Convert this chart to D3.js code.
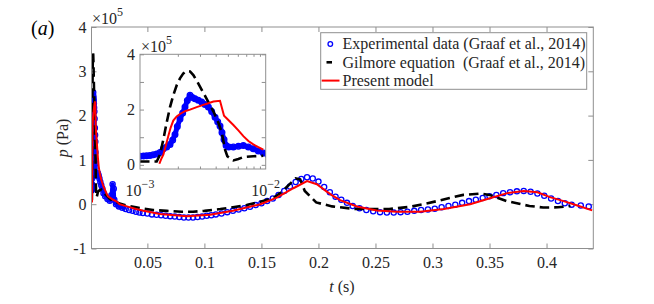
<!DOCTYPE html>
<html><head><meta charset="utf-8">
<script src="https://cdn.jsdelivr.net/npm/d3@7"></script>
<style>
body{margin:0;background:#fff;}
svg text{font-family:"Liberation Serif","Times New Roman","Tinos","DejaVu Serif",serif !important;}
</style></head>
<body>
<svg id="chart" width="654" height="304"></svg>
<script>
// ---------- data (p in units of 1e5 Pa, t in s) ----------
const expT = [0.001,0.001063,0.00113,0.001201,0.001276,0.001358,0.001443,0.001534,0.00163,0.001733,0.00182,0.001899,0.001982,0.002081,0.002185,0.00228,0.00238,0.0025,0.002609,0.00274,0.002912,0.003096,0.003291,0.0035,0.003718,0.003955,0.00415,0.00433,0.00449,0.00466,0.00484,0.00508,0.00553,0.00606,0.00664,0.00728,0.00797,0.00874,0.00957,
  0.0105,0.0115,0.013,0.015,0.017,0.0185,0.0195,0.0205,0.021,0.0225,0.025,0.028,0.031,0.034,0.037,0.040,0.043,0.046,0.050,0.054,0.058,0.062,0.066,0.070,0.074,0.078,0.082,0.086,0.090,0.094,0.098,0.102,0.106,0.110,0.115,0.120,0.125,0.130,0.135,0.140,0.145,0.150,0.155,0.160,0.165,0.170,0.175,0.180,0.185,0.190,0.195,0.200,0.205,0.210,0.215,0.220,0.225,0.230,0.236,0.242,0.248,0.254,0.260,0.266,0.272,0.278,0.284,0.290,0.296,0.302,0.308,0.314,0.320,0.326,0.332,0.338,0.344,0.350,0.356,0.362,0.368,0.374,0.380,0.386,0.392,0.398,0.404,0.410,0.416,0.422,0.430,0.437];
const expP = [0.31,0.32,0.33,0.34,0.37,0.39,0.45,0.58,0.65,0.74,0.90,1.10,1.39,1.66,1.88,2.09,2.33,2.52,2.44,2.39,2.34,2.27,2.18,2.09,1.93,1.72,1.56,1.41,1.17,0.92,0.70,0.65,0.65,0.67,0.70,0.65,0.58,0.50,0.43,
  0.35,0.25,0.18,0.12,0.08,0.20,0.45,0.35,0.10,0.0,-0.05,-0.08,-0.11,-0.13,-0.15,-0.17,-0.19,-0.20,-0.21,-0.23,-0.24,-0.25,-0.26,-0.27,-0.28,-0.29,-0.30,-0.30,-0.30,-0.29,-0.28,-0.26,-0.25,-0.23,-0.21,-0.18,-0.15,-0.12,-0.09,-0.06,-0.02,0.02,0.07,0.13,0.21,0.30,0.40,0.50,0.57,0.61,0.58,0.51,0.39,0.27,0.17,0.10,0.03,-0.04,-0.09,-0.13,-0.16,-0.18,-0.19,-0.19,-0.18,-0.17,-0.15,-0.13,-0.12,-0.10,-0.07,-0.04,-0.01,0.03,0.07,0.10,0.14,0.18,0.21,0.25,0.27,0.29,0.30,0.28,0.24,0.19,0.13,0.07,0.02,-0.01,-0.03,-0.05];

const gilT = [0.001,0.001358,0.001443,0.001534,0.00163,0.001733,0.00184,0.001959,0.002081,0.002212,0.00235,0.0025,0.002657,0.002912,0.00319,0.0035,0.00384,0.0042,0.00447,0.00475,0.00495,0.00553,0.00606,0.00664,0.00797,0.00957,
  0.012,0.017,0.025,0.032,0.040,0.0465,0.055,0.067,0.080,0.090,0.100,0.114,0.125,0.137,0.150,0.161,0.168,0.175,0.180,0.184,0.188,0.198,0.212,0.233,0.262,0.280,0.292,0.304,0.315,0.327,0.342,0.350,0.3565,0.365,0.374,0.385,0.397,0.410,0.421];
const gilP = [0.12,0.12,0.37,0.92,1.53,2.09,2.52,2.88,3.13,3.31,3.40,3.38,3.25,2.94,2.61,2.27,1.93,1.53,1.17,0.55,0.31,0.16,0.21,0.28,0.31,0.33,
  0.25,0.12,0.02,-0.03,-0.07,-0.10,-0.13,-0.15,-0.17,-0.17,-0.15,-0.11,-0.07,-0.02,0.06,0.15,0.28,0.46,0.58,0.56,0.30,0.04,-0.05,-0.11,-0.11,-0.06,0.0,0.07,0.14,0.21,0.24,0.21,0.15,0.07,0.02,-0.04,-0.075,-0.07,-0.04];

const modT = [0.001426,0.001488,0.001534,0.0016,0.00168,0.001754,0.00184,0.001959,0.002081,0.00228,0.0025,0.002825,0.00319,0.0035,0.00384,0.00433,0.00466,0.00495,0.00553,0.00606,0.00664,0.00728,0.00797,0.00874,0.00957,
  0.0115,0.0144,0.0155,0.020,0.0232,0.0255,0.032,0.040,0.0465,0.061,0.0846,0.105,0.125,0.149,0.1635,0.178,0.190,0.1986,0.207,0.212,0.219,0.2337,0.251,0.269,0.289,0.310,0.333,0.351,0.3655,0.380,0.392,0.403,0.415,0.427,0.440];
const modP = [0.04,0.25,0.37,0.67,1.04,1.35,1.60,1.75,1.84,1.94,2.00,2.09,2.17,2.23,2.29,2.32,1.78,1.66,1.44,1.25,1.04,0.86,0.74,0.64,0.55,
  0.40,0.23,0.18,0.10,0.06,0.0,-0.05,-0.11,-0.15,-0.22,-0.27,-0.24,-0.15,0.0,0.15,0.36,0.52,0.45,0.29,0.20,0.09,-0.05,-0.14,-0.17,-0.17,-0.11,0.0,0.14,0.25,0.30,0.27,0.16,0.07,-0.03,-0.14];

const xTicks = [0.05,0.1,0.15,0.2,0.25,0.3,0.35,0.4];
const yTicks = [-1,0,1,2,3,4];
const insetYTicks = [0,1,2,3,4];
const insetYLabels = ["0","","2","","4"];
const insetXMajor = [1e-3,1e-2];
const insetXMinor = [2e-3,3e-3,4e-3,5e-3,6e-3,7e-3,8e-3,9e-3];
const legendLabels = ["Experimental data (Graaf et al., 2014)","Gilmore equation  (Graaf et al., 2014)","Present model"];

// ---------- setup ----------
const svg = d3.select("#chart");
const AX = "#8f8f8f", TX = "#262626";
const BLUE = "#0000ff", RED = "#ff0000", BLACK = "#000000";
const zip = (T,P) => T.map((t,i)=>({t, p:P[i]}));
const exp = zip(expT,expP), gil = zip(gilT,gilP), mod = zip(modT,modP);

const M = {l:91.5, r:593.3, t:27, b:248.5};
const x = d3.scaleLinear().domain([0.001,0.441]).range([M.l,M.r]);
const y = d3.scaleLinear().domain([-1,4]).range([M.b,M.t]);

const defs = svg.append("defs");
defs.append("clipPath").attr("id","clipMain").append("rect")
  .attr("x",M.l).attr("y",M.t).attr("width",M.r-M.l).attr("height",M.b-M.t);

function styleAxis(g){
  g.attr("font-family",null);
  g.selectAll(".domain").remove();
  g.selectAll(".tick line").attr("stroke",AX);
  g.selectAll(".tick text").attr("fill",TX).attr("font-size",16);
}

svg.append("g").attr("transform",`translate(0,${M.b})`)
  .call(d3.axisBottom(x).tickValues(xTicks).tickSize(-5).tickPadding(8).tickFormat(d3.format("")))
  .call(styleAxis);
svg.append("g").attr("transform",`translate(0,${M.t})`)
  .call(d3.axisTop(x).tickValues(xTicks).tickSize(-5).tickFormat(""))
  .call(styleAxis);
svg.append("g").attr("transform",`translate(${M.l},0)`)
  .call(d3.axisLeft(y).tickValues(yTicks).tickSize(-5).tickPadding(5).tickFormat(d=>d<0?"-"+Math.abs(d):d))
  .call(styleAxis);
svg.append("g").attr("transform",`translate(${M.r},0)`)
  .call(d3.axisRight(y).tickValues(yTicks).tickSize(-5).tickFormat(""))
  .call(styleAxis);

const gm = svg.append("g").attr("clip-path","url(#clipMain)");
const lineM = d3.line().x(d=>x(d.t)).y(d=>y(d.p));
gm.append("path").datum(exp.filter(d=>d.t<=0.031)).attr("d",lineM)
  .attr("fill","none").attr("stroke",BLUE).attr("stroke-width",4).attr("stroke-linejoin","round");
gm.selectAll("circle.e").data(exp).join("circle").attr("class","e")
  .attr("cx",d=>x(d.t)).attr("cy",d=>y(d.p)).attr("r",2.6)
  .attr("fill","none").attr("stroke",BLUE).attr("stroke-width",1.3);
gm.append("path").datum(gil).attr("d",lineM)
  .attr("fill","none").attr("stroke",BLACK).attr("stroke-width",2.6).attr("stroke-dasharray","9.5,5");
gm.append("path").datum(mod).attr("d",lineM)
  .attr("fill","none").attr("stroke",RED).attr("stroke-width",2);

svg.append("rect").attr("x",M.l).attr("y",M.t).attr("width",M.r-M.l).attr("height",M.b-M.t)
  .attr("fill","none").attr("stroke",AX).attr("stroke-width",1);

const e1 = svg.append("text").attr("x",92).attr("y",24).attr("font-size",16).attr("fill",TX);
e1.append("tspan").text("×10");
e1.append("tspan").attr("font-size",12).attr("dy",-8).text("5");

const yl = svg.append("text").attr("transform","translate(68,138) rotate(-90)")
  .attr("text-anchor","middle").attr("font-size",16).attr("fill",TX);
yl.append("tspan").attr("font-style","italic").text("p");
yl.append("tspan").text(" (Pa)");
const xl = svg.append("text").attr("x",342).attr("y",292)
  .attr("text-anchor","middle").attr("font-size",16).attr("fill",TX);
xl.append("tspan").attr("font-style","italic").text("t");
xl.append("tspan").text(" (s)");

const pl = svg.append("text").attr("x",31).attr("y",35).attr("font-size",20).attr("fill","#000");
pl.append("tspan").text("(");
pl.append("tspan").attr("font-style","italic").text("a");
pl.append("tspan").text(")");

const L = {x:320.7, y:32.7, w:266, h:56.6};
svg.append("rect").attr("x",L.x).attr("y",L.y).attr("width",L.w).attr("height",L.h)
  .attr("fill","#fff").attr("stroke",AX).attr("stroke-width",1);
const lg = svg.append("g");
legendLabels.forEach((lab,i)=>{
  const cy = 44 + i*18.3;
  if(i===0){
    lg.append("circle").attr("cx",330.3).attr("cy",cy).attr("r",2.3)
      .attr("fill","none").attr("stroke",BLUE).attr("stroke-width",1.3);
  } else if(i===1){
    lg.append("line").attr("x1",326.5).attr("x2",332).attr("y1",cy).attr("y2",cy)
      .attr("stroke",BLACK).attr("stroke-width",2.6);
  } else {
    lg.append("line").attr("x1",321.7).attr("x2",339.5).attr("y1",cy).attr("y2",cy)
      .attr("stroke",RED).attr("stroke-width",2);
  }
  lg.append("text").attr("x",342.5).attr("y",cy+5.3).attr("font-size",16).attr("fill",TX)
    .style("white-space","pre").text(lab);
});

// ---------- inset ----------
const I = {l:140, r:265.7, t:54.3, b:169};
const xi = d3.scaleLog().domain([1e-3,1e-2]).range([I.l,I.r]);
const yi = d3.scaleLinear().domain([-0.15,4]).range([I.b,I.t]);
defs.append("clipPath").attr("id","clipInset").append("rect")
  .attr("x",I.l).attr("y",I.t).attr("width",I.r-I.l).attr("height",I.b-I.t);

svg.append("rect").attr("x",I.l).attr("y",I.t).attr("width",I.r-I.l).attr("height",I.b-I.t)
  .attr("fill","#fff");

const gi = svg.append("g").attr("clip-path","url(#clipInset)");
const lineI = d3.line().x(d=>xi(d.t)).y(d=>yi(d.p));
const expI = exp.filter(d=>d.t<=0.0105);
gi.append("path").datum(expI).attr("d",lineI)
  .attr("fill","none").attr("stroke",BLUE).attr("stroke-width",5).attr("stroke-linejoin","round");
gi.selectAll("circle").data(expI).join("circle")
  .attr("cx",d=>xi(d.t)).attr("cy",d=>yi(d.p)).attr("r",2.8)
  .attr("fill","none").attr("stroke",BLUE).attr("stroke-width",1.4);
gi.append("circle").datum(expI[expI.length-1])
  .attr("cx",d=>xi(d.t)).attr("cy",d=>yi(d.p)).attr("r",2.4)
  .attr("fill","#fff").attr("stroke",BLUE).attr("stroke-width",1.4);
gi.append("path").datum(gil.filter(d=>d.t<=0.0105)).attr("d",lineI)
  .attr("fill","none").attr("stroke",BLACK).attr("stroke-width",2.6).attr("stroke-dasharray","9.5,5");
gi.append("path").datum(mod.filter(d=>d.t<=0.0105)).attr("d",lineI)
  .attr("fill","none").attr("stroke",RED).attr("stroke-width",2);

svg.append("g").attr("transform",`translate(${I.l},0)`)
  .call(d3.axisLeft(yi).tickValues(insetYTicks).tickSize(-4).tickPadding(5).tickFormat((d,i)=>insetYLabels[i]))
  .call(styleAxis);
svg.append("g").attr("transform",`translate(${I.r},0)`)
  .call(d3.axisRight(yi).tickValues(insetYTicks).tickSize(-4).tickFormat(""))
  .call(styleAxis);
svg.append("g").attr("transform",`translate(0,${I.b})`)
  .call(d3.axisBottom(xi).tickValues(insetXMinor).tickSize(-2.5).tickFormat(""))
  .call(styleAxis);
svg.append("g").attr("transform",`translate(0,${I.t})`)
  .call(d3.axisTop(xi).tickValues(insetXMinor).tickSize(-2.5).tickFormat(""))
  .call(styleAxis);
svg.append("rect").attr("x",I.l).attr("y",I.t).attr("width",I.r-I.l).attr("height",I.b-I.t)
  .attr("fill","none").attr("stroke",AX).attr("stroke-width",1);

insetXMajor.forEach(v=>{
  const t = svg.append("text").attr("x",xi(v)).attr("y",195.5)
    .attr("text-anchor","middle").attr("font-size",16).attr("fill",TX);
  t.append("tspan").text("10");
  t.append("tspan").attr("font-size",12).attr("dy",-8).text("−" + Math.round(-Math.log10(v)));
});
const e2 = svg.append("text").attr("x",141).attr("y",51.5).attr("font-size",16).attr("fill",TX);
e2.append("tspan").text("×10");
e2.append("tspan").attr("font-size",12).attr("dy",-8).text("5");
</script>
</body></html>
